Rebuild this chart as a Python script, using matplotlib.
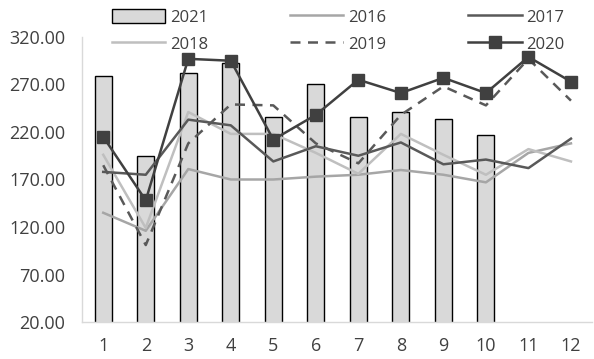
import matplotlib
matplotlib.use('Agg')
import matplotlib.pyplot as plt
import numpy as np


## Global matplotlib param
plt.rcParams['font.family'] = ['Open Sans', 'DejaVu Sans']
plt.rcParams['font.size'] = 12
plt.rcParams['lines.linewidth'] = 1.6


## data
months = ['1', '2', '3', '4', '5', '6', '7', '8', '9', '10', '11', '12']

y2021 = [279, 195, 282, 293, 236, 271, 236, 241, 234, 217]
y2016 = [135, 116, 181, 170, 170, 173, 175, 180, 175, 167, 198, 208]
y2017 = [178, 175, 233, 227, 189, 205, 195, 209, 186, 191, 182, 213]
y2018 = [196, 119, 241, 218, 218, 198, 176, 218, 196, 175, 202, 189]
y2019 = [185, 101, 208, 249, 248, 208, 187, 238, 268, 248, 297, 253]
y2020 = [215, 148, 297, 295, 212, 238, 275, 261, 277, 261, 299, 273]

yticks = [20, 70, 120, 170, 220, 270, 320]


fig = plt.figure(figsize=(5.94, 3.59), dpi=100)
ax = fig.add_axes([0.138, 0.103, 0.859, 0.794])

x = np.arange(len(months))

## bars for 2021
b21 = ax.bar(x[:len(y2021)], y2021, width=0.4, color='#d9d9d9',
             edgecolor='black', linewidth=1.0, zorder=1, label='2021')

## lines
l16, = ax.plot(x, y2016, color='#a6a6a6', lw=1.8, zorder=2, label='2016')
l17, = ax.plot(x, y2017, color='#595959', lw=1.8, zorder=3, label='2017')
l18, = ax.plot(x, y2018, color='#bfbfbf', lw=1.8, zorder=2, label='2018')
l19, = ax.plot(x, y2019, color='#595959', lw=1.8, ls=(0, (4, 3)), zorder=3, label='2019')
l20, = ax.plot(x, y2020, color='#404040', lw=1.8, marker='s', markersize=8,
               zorder=4, label='2020')

## axes
ax.set_xlim(-0.5, len(months) - 0.5)
ax.set_ylim(20, 320)
ax.set_yticks(yticks)
ax.set_yticklabels(['%.2f' % v for v in yticks])
ax.set_xticks(x)
ax.set_xticklabels(months)
ax.tick_params(length=0, colors='#404040', labelsize=13)
ax.tick_params(axis='y', pad=12)
ax.tick_params(axis='x', pad=11)

for s in ['top', 'right']:
    ax.spines[s].set_visible(False)
for s in ['left', 'bottom']:
    ax.spines[s].set_color('#d9d9d9')
    ax.spines[s].set_linewidth(1.0)

## legend : column first filling -> reorder
handles = [b21, l18, l16, l19, l17, l20]
labels = ['2021', '2018', '2016', '2019', '2017', '2020']
fig.legend(handles, labels, ncol=3, loc='upper left',
           bbox_to_anchor=(112 / 594, 0.975), frameon=False,
           borderaxespad=0, borderpad=0,
           handlelength=3.2, handleheight=0.9, columnspacing=4.9,
           labelspacing=0.63, handletextpad=0.3, labelcolor='#404040')

fig.savefig('out.png', dpi=100)
